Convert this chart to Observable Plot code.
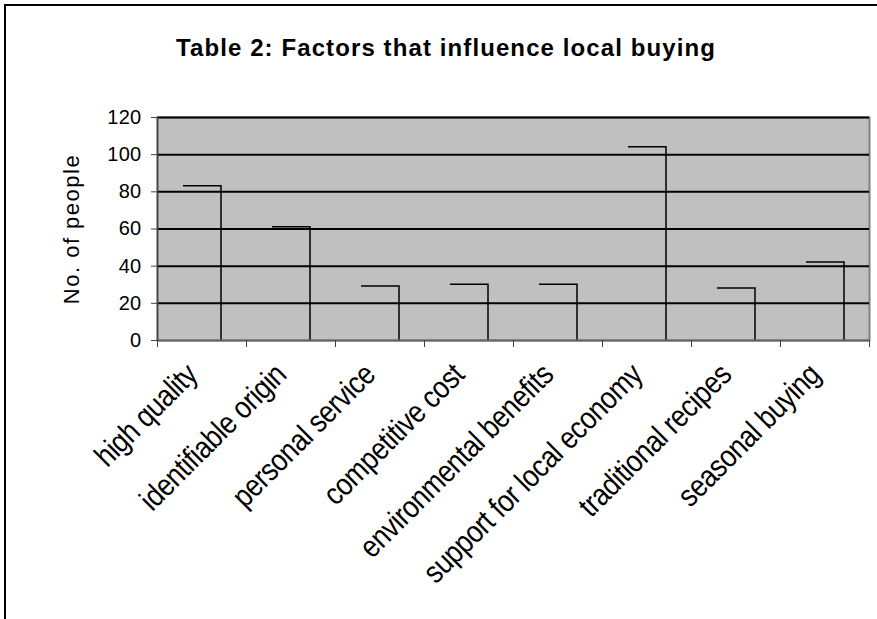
<!DOCTYPE html>
<html>
<head>
<meta charset="utf-8">
<script src="https://cdn.jsdelivr.net/npm/d3@7"></script>
<script src="https://cdn.jsdelivr.net/npm/@observablehq/plot@0.6"></script>
<style>
  html, body { margin: 0; padding: 0; background: #fff; overflow: hidden; }
  #wrap { position: relative; width: 877px; height: 619px; font-family: "Liberation Sans", Arial, sans-serif; }
  #border { position: absolute; left: 4px; top: 4px; width: 873px; height: 615px; box-sizing: border-box; border-left: 2px solid #000; border-top: 2px solid #000; }
  #title { position: absolute; left: 0; width: 877px; top: 34px; padding-left: 15px; box-sizing: border-box; text-align: center; font-weight: bold; font-size: 24px; letter-spacing: 1.1px; color: #000; }
  #chart { position: absolute; left: 0; top: 0; width: 877px; height: 619px; }
</style>
</head>
<body>
<div id="wrap">
  <div id="border"></div>
  <div id="chart"></div>
  <div id="title">Table 2: Factors that influence local buying</div>
</div>
<script>
// Survey answers: factors that influence buying local produce
const factors = [
  "high quality",
  "identifiable origin",
  "personal service",
  "competitive cost",
  "environmental benefits",
  "support for local economy",
  "traditional recipes",
  "seasonal buying"
];
const people = [83, 61, 29, 30, 30, 104, 28, 42];
const yTicks = [0, 20, 40, 60, 80, 100, 120];

const rows = factors.map((f, i) => ({factor: f, i, people: people[i]}));
const bounds = d3.range(factors.length + 1);
const centers = factors.map((_, i) => i + 0.5);

const chart = Plot.plot({
  width: 877,
  height: 619,
  marginTop: 117,
  marginBottom: 279,
  marginLeft: 157,
  marginRight: 8,
  style: {fontFamily: "'Liberation Sans', Arial, sans-serif", background: "transparent", color: "#000"},
  x: {domain: [0, factors.length], axis: null, label: null},
  y: {domain: [0, 120], axis: null, label: null},
  marks: [
    Plot.frame({fill: "#c0c0c0", stroke: "#808080", strokeWidth: 2}),
    Plot.gridY(yTicks.filter(v => v > 0), {stroke: "#000", strokeOpacity: 1, strokeWidth: 2}),
    // bars: only top and right edges are drawn
    Plot.rectY(rows, {
      x1: "i",
      x2: d => d.i + 1,
      y: "people",
      insetLeft: 26,
      insetRight: 25,
      fill: "none",
      stroke: "#000",
      strokeWidth: 1.5
    }),
    Plot.ruleY([0], {stroke: "#666", strokeWidth: 2}),
    Plot.ruleX([0], {stroke: "#444", strokeWidth: 1.5}),
    Plot.axisY({
      ticks: yTicks,
      tickSize: 6,
      tickPadding: 10,
      fontSize: 20,
      stroke: "#444",
      label: null
    }),
    Plot.axisX({
      ticks: bounds,
      tickSize: 7,
      tickFormat: () => "",
      stroke: "#444",
      label: null
    }),
    Plot.axisX({
      ticks: centers,
      tickSize: 0,
      tickPadding: 29,
      tickRotate: -45,
      fontSize: 31,
      dx: -10,
      tickFormat: v => factors[Math.round(v - 0.5)],
      label: null
    }),
    Plot.text(["No. of people"], {
      frameAnchor: "left",
      textAnchor: "middle",
      dx: -86,
      rotate: -90,
      fontSize: 22,
      fill: "#000"
    })
  ]
});

document.getElementById("chart").appendChild(chart);

// Half the perimeter of each bar outline: top edge then right edge.
d3.select(chart).selectAll("g[aria-label='rect'] rect")
  .attr("pathLength", 2)
  .attr("stroke-dasharray", "1 1");
d3.select(chart).selectAll("g[aria-label='y-axis tick label'] text")
  .style("letter-spacing", "0.3px");
d3.select(chart).selectAll("g[aria-label='text'] text")
  .style("letter-spacing", "1.5px");
// Category labels: condensed along the baseline
d3.select(chart).selectAll("g[aria-label='x-axis tick label'] text")
  .style("letter-spacing", "-0.5px")
  .attr("transform", function() {
    return (this.getAttribute("transform") || "") + " scale(0.86,1)";
  });
</script>
</body>
</html>
